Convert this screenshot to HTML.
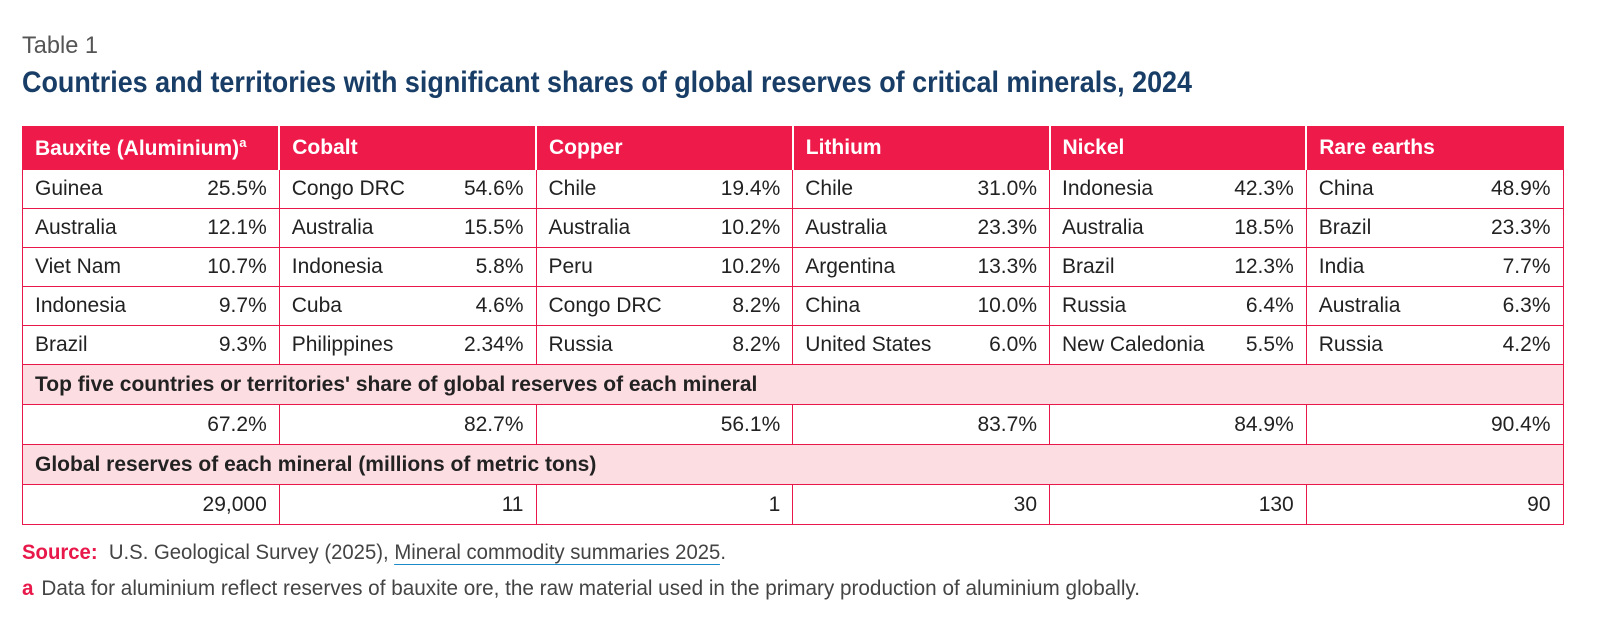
<!DOCTYPE html>
<html><head><meta charset="utf-8">
<style>
body{margin:0;width:1614px;height:627px;background:#fff;overflow:hidden;font-family:"Liberation Sans Narrow","Liberation Sans",sans-serif;}
.abs{position:absolute;white-space:nowrap;}
#t1{left:22px;top:32px;font-size:24px;color:#555;}
#title{left:22px;top:66px;font-size:30px;font-weight:bold;color:#183d66;transform-origin:0 0;}
table{position:absolute;left:22px;top:126px;width:1542px;border-collapse:collapse;table-layout:fixed;font-size:21px;color:#222;}
td,th{border:1.5px solid #e8194a;padding:0 12px;}
th{background:#ee1a4a;color:#fff;text-align:left;height:42px;font-size:21px;border-color:#ee1a4a;border-right:2px solid #fff;}
th:last-child{border-right-color:#ee1a4a;}
tr.d td{height:38px;}
td .v{float:right;}
tr.p td{background:#fbdde2;font-weight:bold;height:39px;}
tr.s td{text-align:right;height:39px;}
#src{left:22px;top:541px;font-size:21px;color:#444;}
#src b{color:#e8194a;}
#src u{text-decoration:none;border-bottom:1.5px solid #1a8ac9;}
#fn{left:22px;top:577px;font-size:21px;color:#444;}
#fn b{color:#e8194a;margin-right:8px;}
</style></head><body>
<div class="abs" id="t1">Table 1</div>
<div class="abs" id="title">Countries and territories with significant shares of global reserves of critical minerals, 2024</div>
<table>
<tr>
<th>Bauxite (Aluminium)<sup style="font-size:13px">a</sup></th>
<th>Cobalt</th>
<th>Copper</th>
<th>Lithium</th>
<th>Nickel</th>
<th>Rare earths</th></tr>
<tr class="d"><td>Guinea<span class="v">25.5%</span></td><td>Congo DRC<span class="v">54.6%</span></td><td>Chile<span class="v">19.4%</span></td><td>Chile<span class="v">31.0%</span></td><td>Indonesia<span class="v">42.3%</span></td><td>China<span class="v">48.9%</span></td></tr>
<tr class="d"><td>Australia<span class="v">12.1%</span></td><td>Australia<span class="v">15.5%</span></td><td>Australia<span class="v">10.2%</span></td><td>Australia<span class="v">23.3%</span></td><td>Australia<span class="v">18.5%</span></td><td>Brazil<span class="v">23.3%</span></td></tr>
<tr class="d"><td>Viet Nam<span class="v">10.7%</span></td><td>Indonesia<span class="v">5.8%</span></td><td>Peru<span class="v">10.2%</span></td><td>Argentina<span class="v">13.3%</span></td><td>Brazil<span class="v">12.3%</span></td><td>India<span class="v">7.7%</span></td></tr>
<tr class="d"><td>Indonesia<span class="v">9.7%</span></td><td>Cuba<span class="v">4.6%</span></td><td>Congo DRC<span class="v">8.2%</span></td><td>China<span class="v">10.0%</span></td><td>Russia<span class="v">6.4%</span></td><td>Australia<span class="v">6.3%</span></td></tr>
<tr class="d"><td>Brazil<span class="v">9.3%</span></td><td>Philippines<span class="v">2.34%</span></td><td>Russia<span class="v">8.2%</span></td><td>United States<span class="v">6.0%</span></td><td>New Caledonia<span class="v">5.5%</span></td><td>Russia<span class="v">4.2%</span></td></tr>
<tr class="p"><td colspan="6">Top five countries or territories' share of global reserves of each mineral</td></tr>
<tr class="s"><td>67.2%</td><td>82.7%</td><td>56.1%</td><td>83.7%</td><td>84.9%</td><td>90.4%</td></tr>
<tr class="p"><td colspan="6">Global reserves of each mineral (millions of metric tons)</td></tr>
<tr class="s"><td>29,000</td><td>11</td><td>1</td><td>30</td><td>130</td><td>90</td></tr>
</table>
<div class="abs" id="src"><b>Source:</b>&nbsp; U.S. Geological Survey (2025), <u>Mineral commodity summaries 2025</u>.</div>
<div class="abs" id="fn"><b>a</b>Data for aluminium reflect reserves of bauxite ore, the raw material used in the primary production of aluminium globally.</div>
<script>
function fit(id,w){var e=document.getElementById(id);var r=e.getBoundingClientRect().width;if(r>0)e.style.transform='scaleX('+(w/r)+')';e.style.transformOrigin='0 0';}
fit('title',1170);fit('src',704);fit('fn',1118);fit('t1',76);
</script>
</body></html>
